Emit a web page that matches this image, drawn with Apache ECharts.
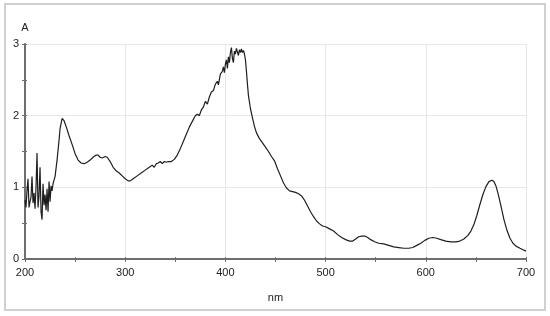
<!DOCTYPE html>
<html>
<head>
<meta charset="utf-8">
<script src="https://cdn.jsdelivr.net/npm/echarts@6/dist/echarts.min.js"></script>
<style>
  html, body { margin: 0; padding: 0; background: #fff; }
  #chart { width: 550px; height: 316px; }
</style>
</head>
<body>
<div id="chart"></div>
<script>
// wavelength (nm) and absorbance
const wavelengths = [
  200, 201, 202, 203, 204, 205, 206, 207, 208, 209,
  210, 211, 212, 213, 214, 215, 216, 217, 218, 219,
  220, 221, 222, 223, 224, 225, 226, 227, 228, 229,
  230, 232, 234, 235, 237, 239, 241, 244, 247, 250,
  253, 256, 259, 262, 265, 268, 271, 273, 275, 277,
  280, 282, 285, 288, 291, 294, 297, 300, 303, 305,
  308, 312, 316, 320, 324, 327, 329, 331, 333, 335,
  337, 339, 341, 343, 346, 349, 352, 355, 358, 361,
  364, 367, 370, 372, 374, 376, 378, 380, 382, 384,
  386, 388, 390, 392, 393, 395, 397, 398, 399, 400,
  401, 402, 403, 404, 405, 406, 407, 408, 409, 410,
  411, 412, 413, 414, 415, 416, 417, 418, 419, 420,
  421, 422, 423, 425, 427, 429, 431, 434, 437, 440,
  443, 446, 449, 452, 455, 458, 461, 464, 467, 470,
  473, 476, 479, 482, 485, 488, 491, 494, 497, 500,
  504, 508, 512, 516, 520, 524, 527, 530, 533, 536,
  539, 542, 545, 549, 553, 558, 563, 568, 573, 578,
  583, 587, 591, 595, 599, 603, 607, 611, 615, 620,
  625, 630, 634, 638, 642, 645, 648, 651, 654, 657,
  660, 663, 666, 668, 670, 672, 675, 678, 681, 684,
  687, 690, 694, 697, 700
];
const absorbance = [
  0.82, 0.72, 0.95, 1.12, 0.72, 0.80, 0.86, 1.15, 0.78, 0.92,
  0.70, 1.00, 1.48, 0.72, 0.88, 1.28, 0.66, 0.55, 1.05, 0.75,
  0.90, 0.68, 0.98, 0.66, 1.08, 0.80, 1.02, 0.95, 1.05, 1.10,
  1.15, 1.38, 1.66, 1.82, 1.96, 1.93, 1.85, 1.72, 1.60, 1.47,
  1.38, 1.34, 1.33, 1.35, 1.38, 1.42, 1.45, 1.45, 1.42, 1.41,
  1.43, 1.42, 1.36, 1.28, 1.23, 1.20, 1.16, 1.12, 1.09, 1.09,
  1.12, 1.16, 1.20, 1.24, 1.28, 1.31, 1.28, 1.33, 1.34, 1.36,
  1.33, 1.36, 1.35, 1.36, 1.36, 1.39, 1.45, 1.54, 1.64, 1.74,
  1.84, 1.92, 2.00, 2.02, 2.00, 2.08, 2.12, 2.20, 2.16, 2.26,
  2.33, 2.35, 2.44, 2.48, 2.43, 2.58, 2.62, 2.68, 2.60, 2.72,
  2.78, 2.66, 2.82, 2.74, 2.88, 2.95, 2.80, 2.74, 2.90, 2.86,
  2.94, 2.96, 2.84, 2.92, 2.88, 2.93, 2.88, 2.91, 2.86, 2.78,
  2.62, 2.44, 2.28, 2.10, 1.97, 1.85, 1.76, 1.68, 1.62, 1.56,
  1.50, 1.43, 1.37, 1.26, 1.16, 1.06, 0.99, 0.95, 0.94, 0.93,
  0.91, 0.88, 0.82, 0.74, 0.66, 0.59, 0.53, 0.49, 0.46, 0.45,
  0.42, 0.39, 0.34, 0.30, 0.27, 0.25, 0.25, 0.28, 0.31, 0.32,
  0.32, 0.30, 0.27, 0.24, 0.22, 0.21, 0.19, 0.17, 0.16, 0.15,
  0.15, 0.16, 0.19, 0.22, 0.26, 0.29, 0.30, 0.29, 0.27, 0.25,
  0.24, 0.24, 0.25, 0.28, 0.33, 0.39, 0.48, 0.61, 0.76, 0.90,
  1.01, 1.08, 1.10, 1.08, 1.02, 0.92, 0.74, 0.55, 0.40, 0.29,
  0.22, 0.18, 0.15, 0.13, 0.11
];

const xRange = [200, 700];
const yRange = [0, 3];

const chart = echarts.init(document.getElementById("chart"));

const font = "Liberation Sans, Arial, sans-serif";
const axisColor = "#6e6e6e";
const gridColor = "#e8e8e8";

// second axis of each pair only draws the inner half of the ticks
const tickAxis = (pos, min, max, step) => ({
  type: "value",
  position: pos,
  min: min,
  max: max,
  interval: step,
  axisLine: { show: false },
  axisTick: { show: true, inside: true, length: 2, lineStyle: { color: axisColor } },
  minorTick: { show: true, splitNumber: 2, length: 2, lineStyle: { color: axisColor } },
  axisLabel: { show: false },
  splitLine: { show: false },
});

const option = {
  animation: false,
  grid: { left: 25, right: 24, top: 44, bottom: 57 },
  graphic: [
    {
      type: "rect",
      shape: { x: 5, y: 4, width: 540, height: 306 },
      style: { fill: "none", stroke: "#d0d0d0", lineWidth: 2 },
      silent: true,
    },
  ],
  xAxis: [
    {
      type: "value",
      position: "bottom",
      min: xRange[0],
      max: xRange[1],
      interval: 100,
      name: "nm",
      nameLocation: "middle",
      nameGap: 33,
      nameTextStyle: { color: "#222", fontSize: 11, fontFamily: font },
      axisLine: { lineStyle: { color: axisColor, width: 2 } },
      axisTick: { length: 3, lineStyle: { color: axisColor } },
      minorTick: { show: true, splitNumber: 2, length: 3, lineStyle: { color: axisColor } },
      axisLabel: { color: "#222", fontSize: 11, fontFamily: font, margin: 8 },
      splitLine: { lineStyle: { color: gridColor } },
    },
    tickAxis("bottom", xRange[0], xRange[1], 100),
  ],
  yAxis: [
    {
      type: "value",
      position: "left",
      min: yRange[0],
      max: yRange[1],
      interval: 1,
      name: "A",
      nameLocation: "end",
      nameGap: 11,
      nameTextStyle: { color: "#222", fontSize: 11, fontFamily: font, align: "center" },
      axisLine: { show: true, lineStyle: { color: axisColor, width: 2 } },
      axisTick: { show: true, length: 3, lineStyle: { color: axisColor } },
      minorTick: { show: true, splitNumber: 2, length: 3, lineStyle: { color: axisColor } },
      axisLabel: { color: "#222", fontSize: 11, fontFamily: font, margin: 6 },
      splitLine: { lineStyle: { color: gridColor } },
    },
    tickAxis("left", yRange[0], yRange[1], 1),
  ],
  series: [
    {
      type: "line",
      xAxisIndex: 0,
      yAxisIndex: 0,
      data: wavelengths.map((w, i) => [w, absorbance[i]]),
      showSymbol: false,
      lineStyle: { color: "#1e1e1e", width: 1.2 },
    },
  ],
};

chart.setOption(option);
</script>
</body>
</html>
